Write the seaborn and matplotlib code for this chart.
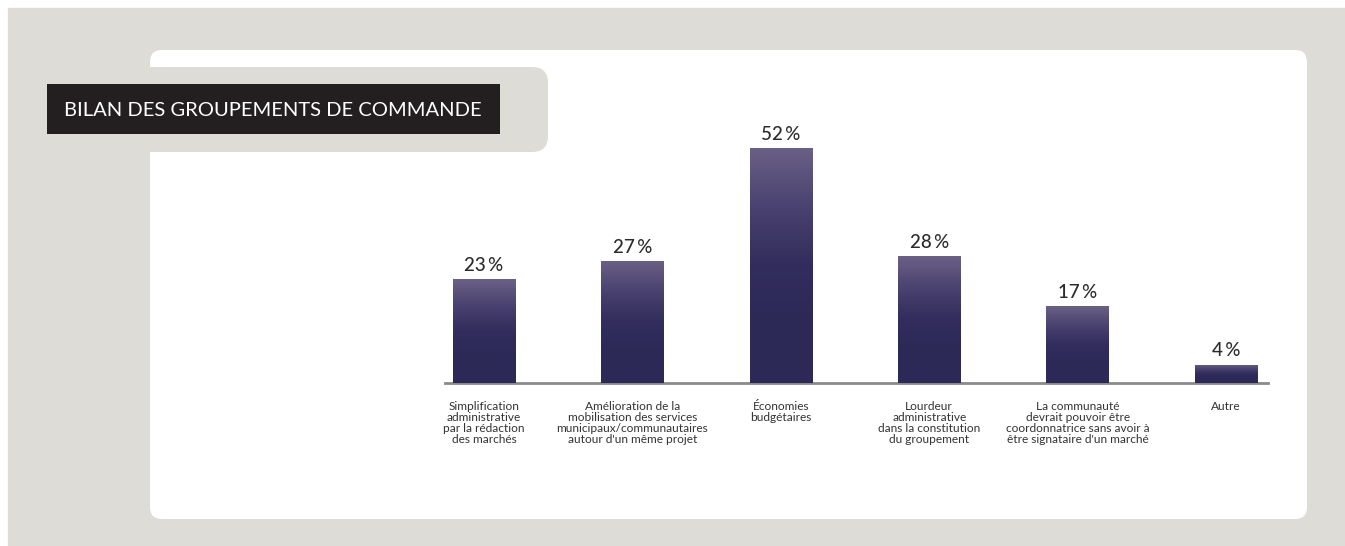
import numpy as np
import pandas as pd
import matplotlib
matplotlib.use("Agg")
import matplotlib.pyplot as plt
from matplotlib.patches import FancyBboxPatch, Rectangle
from matplotlib.colors import LinearSegmentedColormap
import seaborn as sns

categories = [
    "Simplification\nadministrative\npar la rédaction\ndes marchés",
    "Amélioration de la\nmobilisation des services\nmunicipaux/communautaires\nautour d'un même projet",
    "Économies\nbudgétaires",
    "Lourdeur\nadministrative\ndans la constitution\ndu groupement",
    "La communauté\ndevrait pouvoir être\ncoordonnatrice sans avoir à\nêtre signataire d'un marché",
    "Autre",
]
values = [23, 27, 52, 28, 17, 4]
value_labels = ["23 %", "27 %", "52 %", "28 %", "17 %", "4 %"]
title = "BILAN DES GROUPEMENTS DE COMMANDE"

sns.set_theme(style="white")
plt.rcParams['font.family'] = ['Lato', 'DejaVu Sans']

W, H = 1345, 546
fig = plt.figure(figsize=(W / 100, H / 100), dpi=100, facecolor="white")

# background layer in pixel coordinates
bg = fig.add_axes([0, 0, 1, 1])
bg.set_xlim(0, W)
bg.set_ylim(H, 0)
bg.axis("off")
gray = "#dddcd6"
bg.add_patch(Rectangle((8, 8), W - 8, H - 8, color=gray, zorder=0))
bg.add_patch(FancyBboxPatch((150, 50), 1157, 469,
                            boxstyle="round,pad=0,rounding_size=12",
                            fc="white", ec="none", zorder=1))
bg.add_patch(FancyBboxPatch((8, 67), 540, 85,
                            boxstyle="round,pad=0,rounding_size=16",
                            fc=gray, ec="none", zorder=2))
bg.add_patch(Rectangle((47, 84), 453, 50, fc="#231f20", ec="none", zorder=3))
bg.text(64, 110, title, color="white", fontsize=14.5, va="center", ha="left",
        zorder=4)

# chart axes
px_per_unit = 4.52
y0 = 383
ymax = 60
ax_h = ymax * px_per_unit
ax = fig.add_axes([445 / W, (H - y0) / H, 823 / W, ax_h / H])
ax.set_facecolor("none")

df = pd.DataFrame({"cat": categories, "val": values})
sns.barplot(data=df, x="cat", y="val", ax=ax, color="#2e2a58", width=0.42,
            saturation=1)
ax.set_xlim(-0.263, 5.283)
ax.set_ylim(0, ymax)

cmap = LinearSegmentedColormap.from_list(
    "g", ["#6b6186", "#4a4270", "#322d5c", "#2d2957", "#2d2957"])
grad = np.linspace(0, 1, 256).reshape(-1, 1)
for p in ax.patches:
    x, yb = p.get_x(), p.get_y()
    w, h = p.get_width(), p.get_height()
    im = ax.imshow(grad, cmap=cmap, aspect="auto",
                   extent=[x, x + w, yb, yb + h], origin="upper", zorder=3)
    im.set_clip_path(p)

for i, (v, lab) in enumerate(zip(values, value_labels)):
    ax.text(i, v + 1.2, lab.replace(" ", "\u2009"), ha="center", va="bottom",
            fontsize=13.5, color="#2b2b2b", fontweight="medium")

for s in ["top", "right", "left"]:
    ax.spines[s].set_visible(False)
ax.spines["bottom"].set_color("#8a8a8a")
ax.spines["bottom"].set_linewidth(2)
ax.set_yticks([])
ax.set_xlabel("")
ax.set_ylabel("")
ax.tick_params(axis="x", length=0, pad=13, labelsize=8.6, labelcolor="#333333")
for t in ax.get_xticklabels():
    t.set_linespacing(1.0)
    t.set_va("top")
ax.autoscale(False)

fig.savefig("out.png", dpi=100, facecolor="white")
